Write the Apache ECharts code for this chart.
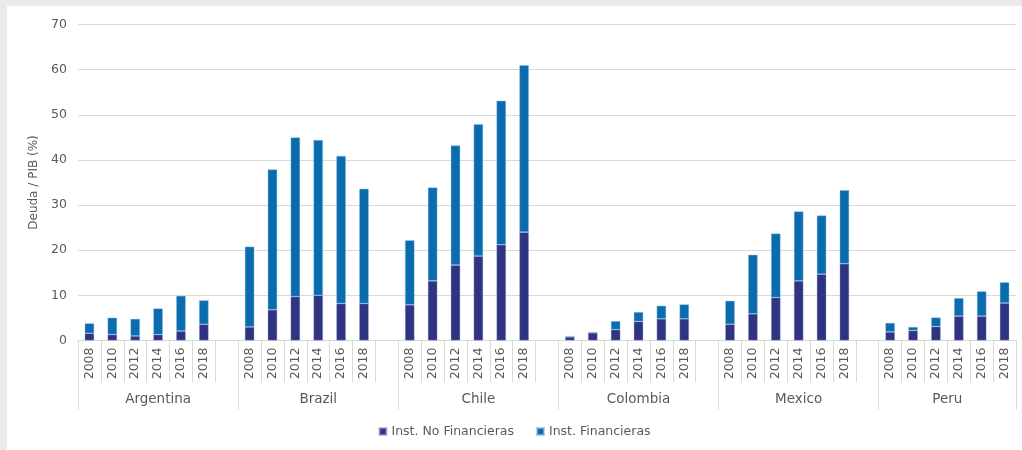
<!DOCTYPE html>
<html>
<head>
<meta charset="utf-8">
<script src="https://cdn.jsdelivr.net/npm/echarts@6/dist/echarts.min.js"></script>
<style>
  html, body { margin: 0; padding: 0; background: #ebebeb; }
  #chart { position: absolute; left: 7px; top: 6px; width: 1015px; height: 444px; background: #ffffff; }
</style>
</head>
<body>
<div id="chart"></div>
<script>
// Debt to GDP (%) by sector, Latin American countries
const countries = ['Argentina', 'Brazil', 'Chile', 'Colombia', 'Mexico', 'Peru'];
const years = ['2008', '2010', '2012', '2014', '2016', '2018'];

// Non-financial institutions, per country, per year
const noFinArgentina = [1.6, 1.3, 1.0, 1.3, 2.1, 3.6];
const noFinBrazil    = [3.0, 6.8, 9.7, 10.0, 8.2, 8.2];
const noFinChile     = [7.9, 13.2, 16.7, 18.7, 21.2, 24.0];
const noFinColombia  = [0.8, 1.7, 2.4, 4.2, 4.8, 4.8];
const noFinMexico    = [3.6, 5.9, 9.5, 13.2, 14.7, 17.0];
const noFinPeru      = [1.9, 2.2, 3.1, 5.4, 5.4, 8.3];

// Financial institutions, per country, per year
const finArgentina = [2.2, 3.75, 3.8, 5.8, 7.8, 5.3];
const finBrazil    = [17.8, 31.1, 35.3, 34.4, 32.7, 25.4];
const finChile     = [14.3, 20.7, 26.5, 29.2, 31.9, 37.0];
const finColombia  = [0.2, 0.2, 1.9, 2.1, 2.9, 3.2];
const finMexico    = [5.2, 13.1, 14.2, 15.4, 13.0, 16.3];
const finPeru      = [2.0, 0.8, 2.0, 4.0, 5.5, 4.6];

const yTicks = [0, 10, 20, 30, 40, 50, 60, 70];

const noFinAll = [noFinArgentina, noFinBrazil, noFinChile, noFinColombia, noFinMexico, noFinPeru];
const finAll = [finArgentina, finBrazil, finChile, finColombia, finMexico, finPeru];

// Flatten into one category axis: each country's years followed by an empty spacer slot
const cats = [], noFinData = [], finData = [];
const groupStart = [];
countries.forEach((c, i) => {
  groupStart.push(cats.length);
  years.forEach((y, j) => {
    cats.push(y);
    noFinData.push(noFinAll[i][j]);
    finData.push(finAll[i][j]);
  });
  if (i < countries.length - 1) {
    cats.push('');
    noFinData.push('-');
    finData.push('-');
  }
});
const nSlots = cats.length;
groupStart.push(nSlots);

// Secondary axis on half-slot points: separators at group edges, names at group centres
const halfPts = [];
for (let k = 0; k <= nSlots * 2; k++) halfPts.push(String(k));
const sepIdx = new Set(groupStart.map(s => s * 2));
const nameAt = {};
countries.forEach((c, i) => { nameAt[groupStart[i] + groupStart[i + 1]] = c; });

const FONT = 'DejaVu Sans';
const TXT = '#595959';
const LINE = '#d9d9d9';

const chart = echarts.init(document.getElementById('chart'), null, { renderer: 'canvas' });
chart.setOption({
  animation: false,
  textStyle: { fontFamily: FONT },
  grid: { left: 71, right: 6, top: 18.5, bottom: 109.5 },
  legend: {
    bottom: 7,
    left: 'center',
    itemWidth: 7,
    itemHeight: 7,
    itemGap: 22,
    icon: 'rect',
    textStyle: { color: TXT, fontSize: 12.5, fontFamily: FONT },
    data: ['Inst. No Financieras', 'Inst. Financieras']
  },
  xAxis: [
    {
      type: 'category',
      data: cats,
      position: 'bottom',
      axisLine: { show: true, lineStyle: { color: LINE, width: 1 } },
      axisTick: { show: true, interval: 0, length: 42, lineStyle: { color: LINE } },
      axisLabel: { interval: 0, rotate: 90, margin: 7, color: TXT, fontSize: 12.5, fontFamily: FONT },
      splitLine: { show: false }
    },
    {
      type: 'category',
      data: halfPts,
      boundaryGap: false,
      position: 'bottom',
      axisLine: { show: false },
      axisTick: { show: true, length: 69, interval: (idx) => sepIdx.has(idx), lineStyle: { color: LINE } },
      axisLabel: {
        interval: (idx) => nameAt[idx] !== undefined,
        formatter: (v, idx) => nameAt[idx] || '',
        margin: 52, color: TXT, fontSize: 13.5, fontFamily: FONT
      },
      splitLine: { show: false }
    }
  ],
  yAxis: {
    type: 'value',
    min: yTicks[0],
    max: yTicks[yTicks.length - 1],
    interval: 10,
    name: 'Deuda / PIB (%)',
    nameLocation: 'middle',
    nameGap: 33,
    nameRotate: 90,
    nameTextStyle: { color: TXT, fontSize: 12, fontFamily: FONT },
    axisLine: { show: false },
    axisTick: { show: false },
    axisLabel: { color: TXT, fontSize: 12.5, margin: 11, fontFamily: FONT },
    splitLine: { lineStyle: { color: LINE, width: 1 } }
  },
  series: [
    {
      name: 'Inst. No Financieras',
      type: 'bar',
      stack: 'deuda',
      barWidth: 9.5,
      data: noFinData,
      itemStyle: { color: '#2f3481', borderColor: 'rgba(150,160,210,0.6)', borderWidth: 0.6 }
    },
    {
      name: 'Inst. Financieras',
      type: 'bar',
      stack: 'deuda',
      barWidth: 9.5,
      data: finData,
      itemStyle: { color: '#0b6cad', borderColor: 'rgba(140,190,230,0.7)', borderWidth: 0.6 }
    }
  ]
});
</script>
</body>
</html>
